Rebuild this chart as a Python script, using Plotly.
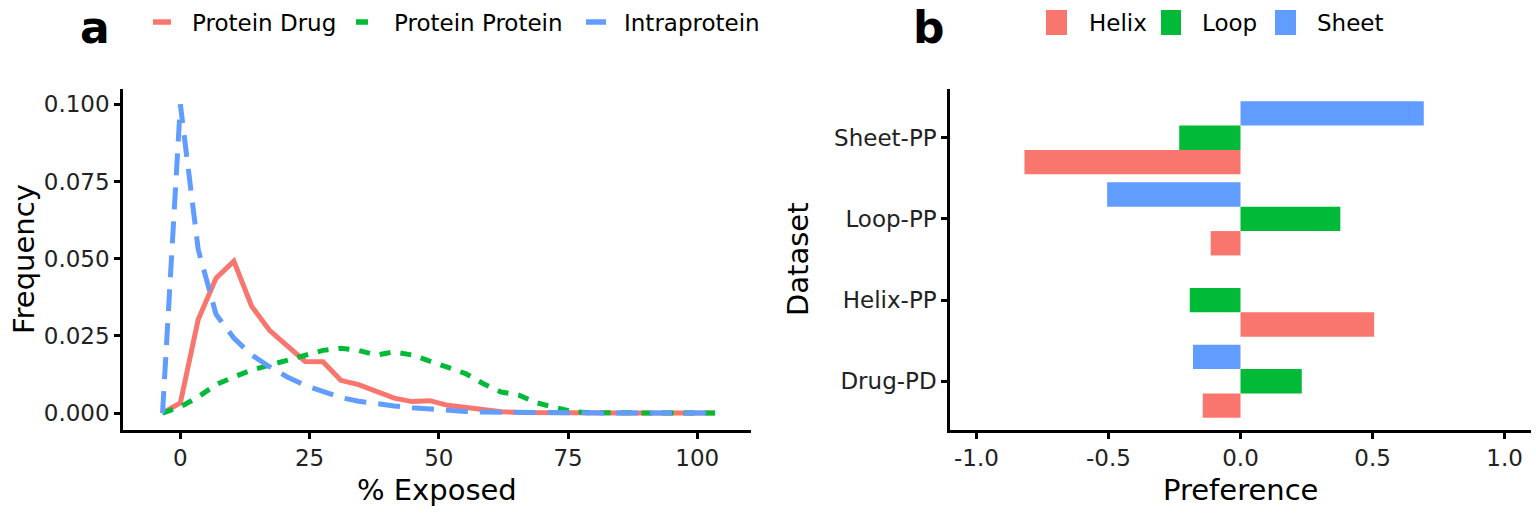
import plotly.graph_objects as go

W, H = 1536, 514

# panel a: frequency polygon of % exposed
exposed = [-3.45, 0.0, 3.45, 6.9, 10.34, 13.79, 17.24, 20.69, 24.14, 27.59, 31.03,
           34.48, 37.93, 41.38, 44.83, 48.28, 51.72, 55.17, 58.62, 62.07, 65.52,
           68.97, 72.41, 75.86, 79.31, 82.76, 86.21, 89.66, 93.10, 96.55, 100.0, 103.45]
protein_drug = [0, 0.0033, 0.0303, 0.0437, 0.0492, 0.0346, 0.0268, 0.0216, 0.0167, 0.0166,
                0.0106, 0.0092, 0.0068, 0.0048, 0.0037, 0.0040, 0.0025, 0.0018, 0.0010,
                0.0004, 0.0002, 0.0001, 0, 0, 0, 0, 0, 0, 0, 0, 0, 0]
protein_protein = [0, 0.0020, 0.0052, 0.0092, 0.0117, 0.0139, 0.0155, 0.0172, 0.0188, 0.0203,
                   0.0210, 0.0203, 0.0188, 0.0198, 0.0188, 0.0168, 0.0150, 0.0128, 0.0095,
                   0.0068, 0.0058, 0.0033, 0.0018, 0.0005, 0.0001, 0, 0, 0, 0, 0, 0, 0]
intraprotein = [0, 0.1000, 0.0530, 0.0320, 0.0243, 0.0188, 0.0150, 0.0117, 0.0090, 0.0069,
                0.0050, 0.0038, 0.0029, 0.0023, 0.0017, 0.0012, 0.0008, 0.0005, 0.0003,
                0.0002, 0.0001, 0, 0, 0, 0, 0, 0, 0, 0, 0, 0, 0]

# panel b: secondary structure preference
datasets = ["Drug-PD", "Helix-PP", "Loop-PP", "Sheet-PP"]
helix = [-0.143, 0.506, -0.113, -0.818]
loop = [0.232, -0.192, 0.378, -0.232]
sheet = [-0.180, None, -0.505, 0.694]

RED, GREEN, BLUE = "#F8766D", "#00BA38", "#619CFF"
FONT = "DejaVu Sans"


def px(x):
    return x / W


def py(y):
    return 1 - y / H


fig = go.Figure()

fig.add_trace(go.Scatter(x=exposed, y=protein_drug, mode="lines", name="Protein Drug",
                         line=dict(color=RED, width=5), xaxis="x", yaxis="y"))
fig.add_trace(go.Scatter(x=exposed, y=protein_protein, mode="lines", name="Protein Protein",
                         line=dict(color=GREEN, width=5, dash="11px,10px"), xaxis="x", yaxis="y"))
fig.add_trace(go.Scatter(x=exposed, y=intraprotein, mode="lines", name="Intraprotein",
                         line=dict(color=BLUE, width=5, dash="22px,12px"), xaxis="x", yaxis="y"))

for name, vals, col in [("Helix", helix, RED), ("Loop", loop, GREEN), ("Sheet", sheet, BLUE)]:
    fig.add_trace(go.Bar(y=datasets, x=vals, orientation="h", name=name,
                         marker=dict(color=col, line=dict(width=0)),
                         xaxis="x2", yaxis="y2"))

axis_common = dict(showline=True, linecolor="black", linewidth=2.5, ticks="outside",
                   ticklen=6, tickwidth=2.5, tickcolor="black", showgrid=False,
                   zeroline=False, tickfont=dict(family=FONT, size=23, color="#222222"))

ydom = [py(430), py(89)]
fig.update_layout(
    width=W, height=H, margin=dict(l=0, r=0, t=0, b=0),
    paper_bgcolor="white", plot_bgcolor="white", showlegend=False,
    barmode="group", bargap=0.1, bargroupgap=0,
    xaxis=dict(domain=[px(123), px(751)], range=[-11.1, 110.4],
               tickvals=[0, 25, 50, 75, 100], anchor="y", **axis_common),
    yaxis=dict(domain=ydom, range=[-0.0055, 0.105],
               tickvals=[0, 0.025, 0.05, 0.075, 0.1],
               ticktext=["0.000", "0.025", "0.050", "0.075", "0.100"], anchor="x", **axis_common),
    xaxis2=dict(domain=[px(950), px(1531)], range=[-1.1, 1.1],
                tickvals=[-1, -0.5, 0, 0.5, 1], ticktext=["-1.0", "-0.5", "0.0", "0.5", "1.0"],
                anchor="y2", **axis_common),
    yaxis2=dict(domain=ydom, range=[-0.6, 3.6], type="category",
                categoryorder="array", categoryarray=datasets, anchor="x2", **axis_common),
)

ann = []
title_font = dict(family=FONT, size=29, color="black")
ann.append(dict(text="% Exposed", x=px(437), y=py(490), font=title_font))
ann.append(dict(text="Frequency", x=px(24), y=py(259), textangle=-90, font=title_font))
ann.append(dict(text="Preference", x=px(1240), y=py(490), font=title_font))
ann.append(dict(text="Dataset", x=px(798), y=py(259), textangle=-90, font=title_font))
letter_font = dict(family=FONT, size=44, color="black", weight="bold")
ann.append(dict(text="a", x=px(95), y=py(0), yanchor="top", font=letter_font))
ann.append(dict(text="b", x=px(929), y=py(0), yanchor="top", font=letter_font))

legend_font = dict(family=FONT, size=23, color="black")
shapes = []
# legend a: line keys
for x0, x1, col, label, tx in [(153, 171, RED, "Protein Drug", 190),
                               (356, 368, GREEN, "Protein Protein", 392),
                               (586, 606, BLUE, "Intraprotein", 622)]:
    shapes.append(dict(type="line", xref="paper", yref="paper", x0=px(x0), x1=px(x1),
                       y0=py(22), y1=py(22), line=dict(color=col, width=5.5)))
    ann.append(dict(text=label, x=px(tx), y=py(23), xanchor="left", font=legend_font))
# legend b: square keys
for x0, x1, col, label, tx in [(1046, 1067, RED, "Helix", 1087),
                               (1161, 1181, GREEN, "Loop", 1200),
                               (1275, 1296, BLUE, "Sheet", 1315)]:
    shapes.append(dict(type="rect", xref="paper", yref="paper", x0=px(x0), x1=px(x1),
                       y0=py(35), y1=py(10), line=dict(width=0), fillcolor=col))
    ann.append(dict(text=label, x=px(tx), y=py(23), xanchor="left", font=legend_font))

for a in ann:
    a.setdefault("xanchor", "center")
    a.setdefault("yanchor", "middle")
    a.update(xref="paper", yref="paper", showarrow=False)
fig.update_layout(annotations=ann, shapes=shapes)

fig.write_html("out.html", config={"displayModeBar": False},
               post_script="document.body.style.margin='0';")
